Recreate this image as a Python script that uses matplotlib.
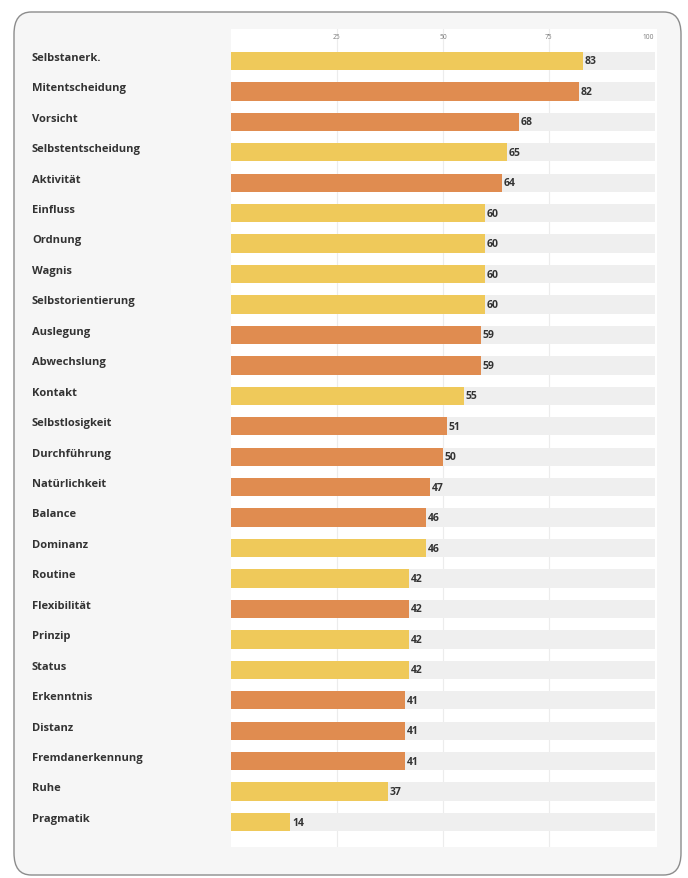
import matplotlib.pyplot as plt
from matplotlib.patches import FancyBboxPatch
from matplotlib.transforms import blended_transform_factory

# Daten
kategorien = ["Selbstanerk.", "Mitentscheidung", "Vorsicht", "Selbstentscheidung",
              "Aktivität", "Einfluss", "Ordnung", "Wagnis", "Selbstorientierung",
              "Auslegung", "Abwechslung", "Kontakt", "Selbstlosigkeit", "Durchführung",
              "Natürlichkeit", "Balance", "Dominanz", "Routine", "Flexibilität",
              "Prinzip", "Status", "Erkenntnis", "Distanz", "Fremdanerkennung",
              "Ruhe", "Pragmatik"]
werte = [83, 82, 68, 65, 64, 60, 60, 60, 60, 59, 59, 55, 51, 50, 47, 46, 46,
         42, 42, 42, 42, 41, 41, 41, 37, 14]
gruppe = ["g", "o", "o", "g", "o", "g", "g", "g", "g", "o", "o", "g", "o", "o",
          "o", "o", "g", "g", "o", "g", "g", "o", "o", "o", "g", "g"]
ticks = [25, 50, 75, 100]

farben = {"g": "#efc95a", "o": "#e08c50"}

plt.rcParams['font.family'] = ['Open Sans', 'DejaVu Sans']

fig = plt.figure(figsize=(6.88, 8.79), dpi=100)
fig.patch.set_facecolor("white")

# Rahmen mit abgerundeten Ecken
panel = FancyBboxPatch((14 / 688, 3 / 879), 667 / 688, 863 / 879,
                       boxstyle="round,pad=0,rounding_size=0.025",
                       transform=fig.transFigure, facecolor="#f6f6f6",
                       edgecolor="#8c8c8c", linewidth=1.0, zorder=-5)
fig.patches.append(panel)

ax = fig.add_axes([231 / 688, 1 - 848 / 879, 426 / 688, 818 / 879])
ax.set_zorder(1)
ax.set_facecolor("white")
for s in ax.spines.values():
    s.set_visible(False)

y = list(range(len(kategorien)))
ax.set_xlim(0, 100.5)
ax.set_ylim(len(kategorien) - 0.18, -1.05)

for t in ticks[:-1]:
    ax.axvline(t, color="#ececec", linewidth=0.8, zorder=0)

ax.barh(y, [100] * len(y), height=0.6, color="#efefef", zorder=1)
ax.barh(y, werte, height=0.6, color=[farben[g] for g in gruppe], zorder=2)

for yi, w in zip(y, werte):
    ax.text(w + 0.4, yi, str(w), va="center", ha="left", fontsize=7.5,
            fontweight="bold", color="#333333", zorder=3)

for t in ticks:
    ax.text(t - (1.5 if t == 100 else 0), -0.82, str(t), ha="center", va="center",
            fontsize=4.8, color="#7a7a7a")

trans = blended_transform_factory(fig.transFigure, ax.transData)
for yi, k in zip(y, kategorien):
    ax.text(32 / 688, yi - 0.12, k, transform=trans, ha="left", va="center",
            fontsize=8, fontweight="bold", color="#333333", clip_on=False)

ax.set_xticks([])
ax.set_yticks([])

plt.savefig("out.png", dpi=100)
